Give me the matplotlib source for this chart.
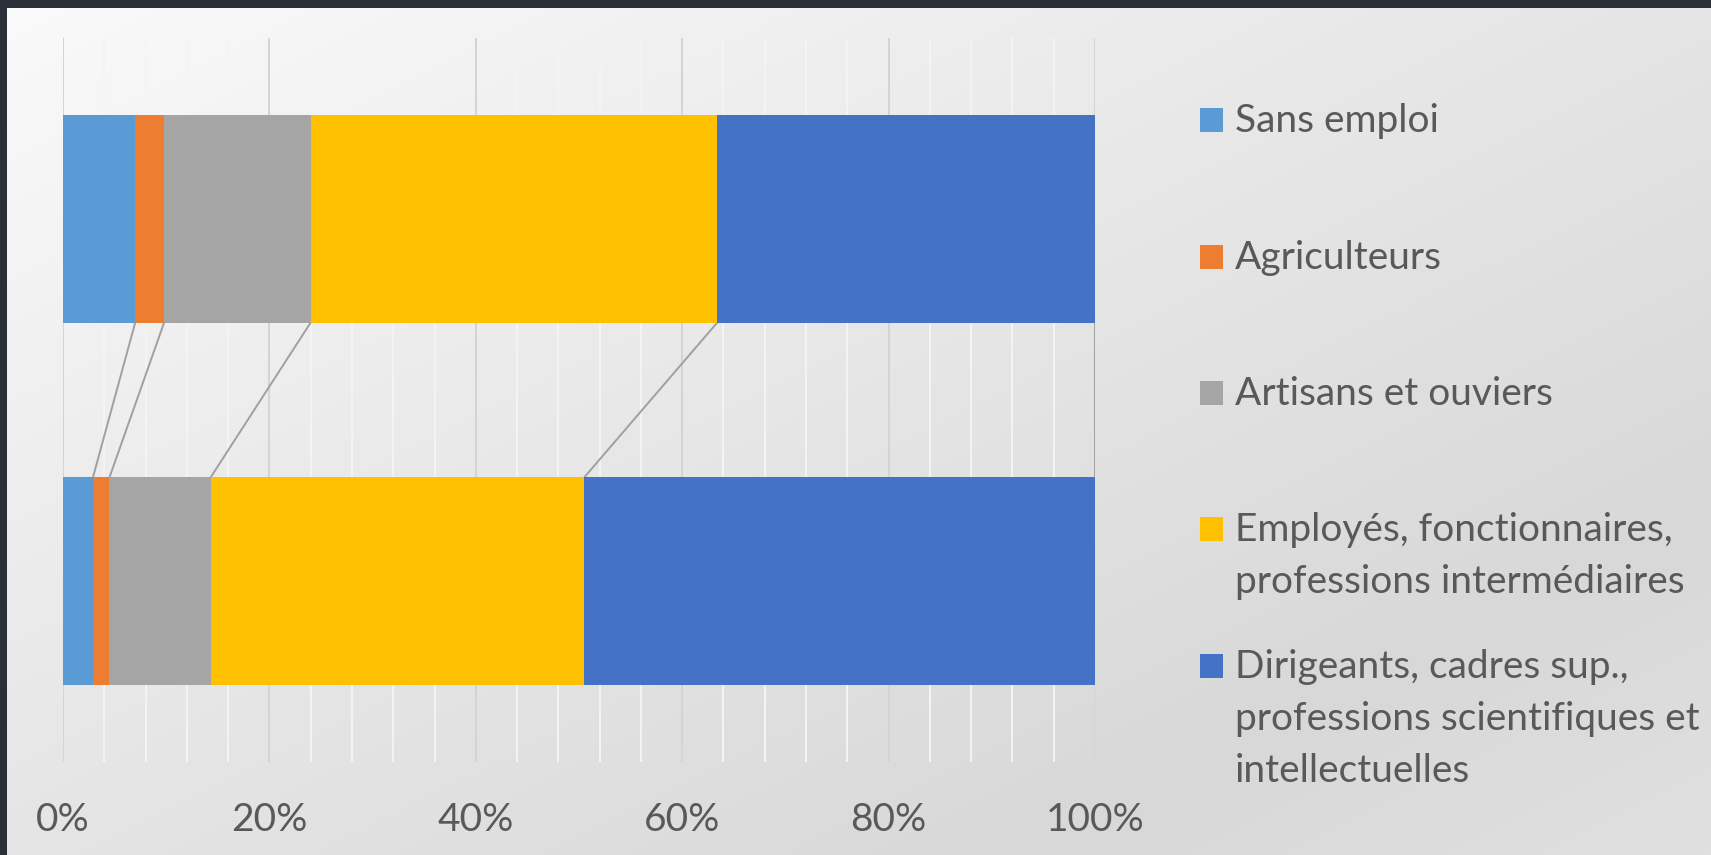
import numpy as np
import matplotlib
matplotlib.use("Agg")
import matplotlib.pyplot as plt
from matplotlib.patches import Rectangle
from matplotlib.colors import LinearSegmentedColormap

plt.rcParams['font.family'] = ['Lato', 'DejaVu Sans']

# Stacked shares (%) per group; index 0 is drawn at the bottom
series_names = [
    "Sans emploi",
    "Agriculteurs",
    "Artisans et ouviers",
    "Employés, fonctionnaires,\nprofessions intermédiaires",
    "Dirigeants, cadres sup.,\nprofessions scientifiques et\nintellectuelles",
]
series_colors = ["#5B9BD5", "#ED7D31", "#A5A5A5", "#FFC000", "#4472C4"]
bottom_group = [2.9, 1.6, 9.8, 36.2, 49.5]
top_group = [7.0, 2.8, 14.2, 39.4, 36.6]
xtick_values = [0, 20, 40, 60, 80, 100]
xtick_labels = ["0%", "20%", "40%", "60%", "80%", "100%"]

W, H = 1711, 855
fig = plt.figure(figsize=(W / 100, H / 100), dpi=100)

# diagonal grey gradient background
bg = fig.add_axes([0, 0, 1, 1], zorder=-10)
yy, xx = np.mgrid[0:1:300j, 0:1:600j]
t = (xx + yy) / 2.0
shade = LinearSegmentedColormap.from_list(
    "shade", [(0.0, "#FAFAFA"), (0.5, "#E5E5E5"), (0.8, "#D8D8D8"), (1.0, "#E0E0E0")])
bg.imshow(t, cmap=shade, vmin=0, vmax=1, aspect="auto", extent=[0, 1, 0, 1],
          origin="upper", interpolation="bilinear")
bg.set_xlim(0, 1)
bg.set_ylim(0, 1)
bg.axis("off")

# dark frame along the top and left edges
fig.patches.append(Rectangle((0, 1 - 8 / H), 1, 8 / H, transform=fig.transFigure,
                             facecolor="#2B2F38", edgecolor="none", zorder=5))
fig.patches.append(Rectangle((0, 0), 7 / W, 1, transform=fig.transFigure,
                             facecolor="#2B2F38", edgecolor="none", zorder=5))

ax = fig.add_axes([63 / W, 1 - 762 / H, 1032 / W, 724 / H])
ax.set_facecolor("none")
ax.set_xlim(0, 100)
ax.set_ylim(-0.5, 1.5)

# gridlines: minor every 4 %, major every 20 %
for v in np.arange(4, 100, 4):
    if v % 20:
        ax.axvline(v, color="#F4F4F4", lw=1.4, zorder=0)
for v in xtick_values:
    ax.axvline(v, color="#D4D4D4", lw=1.4, zorder=0.5)

bar_h = 0.572
groups = [bottom_group, top_group]
for gi, vals in enumerate(groups):
    left = 0.0
    for v, c in zip(vals, series_colors):
        ax.barh(gi, v, left=left, height=bar_h, color=c, edgecolor="none", zorder=2)
        left += v

# series lines joining segment ends between the two bars
cum_bottom = np.cumsum(bottom_group)
cum_top = np.cumsum(top_group)
for xb, xt in zip(cum_bottom, cum_top):
    ax.plot([xt, xb], [1 - bar_h / 2, bar_h / 2], color="#A0A0A0", lw=1.4,
            zorder=1.5, solid_capstyle="butt")

ax.set_xticks(xtick_values)
ax.set_xticklabels(xtick_labels)
ax.set_yticks([])
ax.tick_params(axis="x", length=0, pad=29, labelsize=28, labelcolor="#595959")
for s in ax.spines.values():
    s.set_visible(False)

# legend
baselines = [132, 269, 405, 541, 678]
line_gap = 52
for name, c, yb in zip(series_names, series_colors, baselines):
    fig.patches.append(Rectangle((1200 / W, 1 - yb / H), 23 / W, 24 / H,
                                 transform=fig.transFigure, facecolor=c,
                                 edgecolor="none", zorder=3))
    for k, line in enumerate(name.split("\n")):
        fig.text(1235 / W, 1 - (yb + k * line_gap) / H, line, fontsize=28,
                 color="#595959", va="baseline", ha="left")

fig.savefig("out.png", dpi=100)
